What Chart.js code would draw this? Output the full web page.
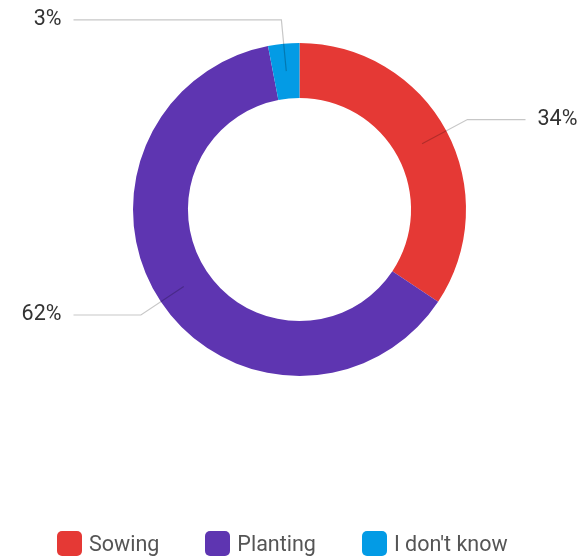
<!DOCTYPE html>
<html>
<head>
<meta charset="utf-8">
<script src="https://cdn.jsdelivr.net/npm/chart.js@4.4.1/dist/chart.umd.min.js"></script>
<style>
  html, body { margin: 0; padding: 0; background: #fff; }
  #wrap { position: relative; width: 583px; height: 558px; }
  #legend {
    position: absolute; left: 57px; top: 531px;
    display: flex; align-items: center;
    font-family: Roboto, sans-serif; font-size: 21.5px; color: #555;
  }
  #legend .item { display: flex; align-items: center; margin-right: 46px; }
  #legend .box { width: 25px; height: 25px; border-radius: 5px; margin-right: 7px; }
</style>
</head>
<body>
<div id="wrap">
  <canvas id="chart"></canvas>
  <div id="legend"></div>
</div>
<script>
const labels = ["Sowing", "Planting", "I don't know"];
const values = [34, 62, 3];
const colors = ["#E53935", "#5E35B1", "#039BE5"];

const A = id => document.getElementById(id);

// percentage labels joined to each slice by an elbow line
const leaderLabels = {
  id: "leaderLabels",
  afterDatasetsDraw(chart) {
    const ctx = chart.ctx;
    const meta = chart.getDatasetMeta(0);
    ctx.save();
    ctx.font = "21.5px Roboto, sans-serif";
    ctx.textBaseline = "middle";
    meta.data.forEach((arc, i) => {
      const p = arc.getProps(["x", "y", "startAngle", "endAngle", "innerRadius", "outerRadius"], true);
      const mid = (p.startAngle + p.endAngle) / 2;
      const r0 = (p.innerRadius + p.outerRadius) / 2;
      const r1 = p.outerRadius + 24;
      const x0 = p.x + Math.cos(mid) * r0, y0 = p.y + Math.sin(mid) * r0;
      const x1 = p.x + Math.cos(mid) * r1, y1 = p.y + Math.sin(mid) * r1;
      const right = Math.cos(mid) > 0;
      const x2 = right ? p.x + 226 : p.x - 226;

      ctx.strokeStyle = "rgba(0,0,0,0.22)";
      ctx.lineWidth = 1.2;
      ctx.beginPath();
      ctx.moveTo(x0, y0);
      ctx.lineTo(x1, y1);
      ctx.lineTo(x2, y1);
      ctx.stroke();

      ctx.fillStyle = "#333";
      ctx.textAlign = right ? "left" : "right";
      ctx.fillText(values[i] + "%", right ? x2 + 12 : x2 - 12, y1);
    });
    ctx.restore();
  }
};

new Chart(A("chart"), {
  type: "doughnut",
  data: {
    labels,
    datasets: [{ data: values, backgroundColor: colors, borderWidth: 0 }]
  },
  options: {
    responsive: true,
    maintainAspectRatio: false,
    animation: false,
    cutout: "67%",
    layout: { padding: { left: 133, right: 117, top: 43, bottom: 182 } },
    plugins: { legend: { display: false }, tooltip: { enabled: false } }
  },
  plugins: [leaderLabels]
});

A("legend").innerHTML = labels.map((l, i) =>
  `<div class="item"><div class="box" style="background:${colors[i]}"></div>${l}</div>`
).join("");
</script>
</body>
</html>
